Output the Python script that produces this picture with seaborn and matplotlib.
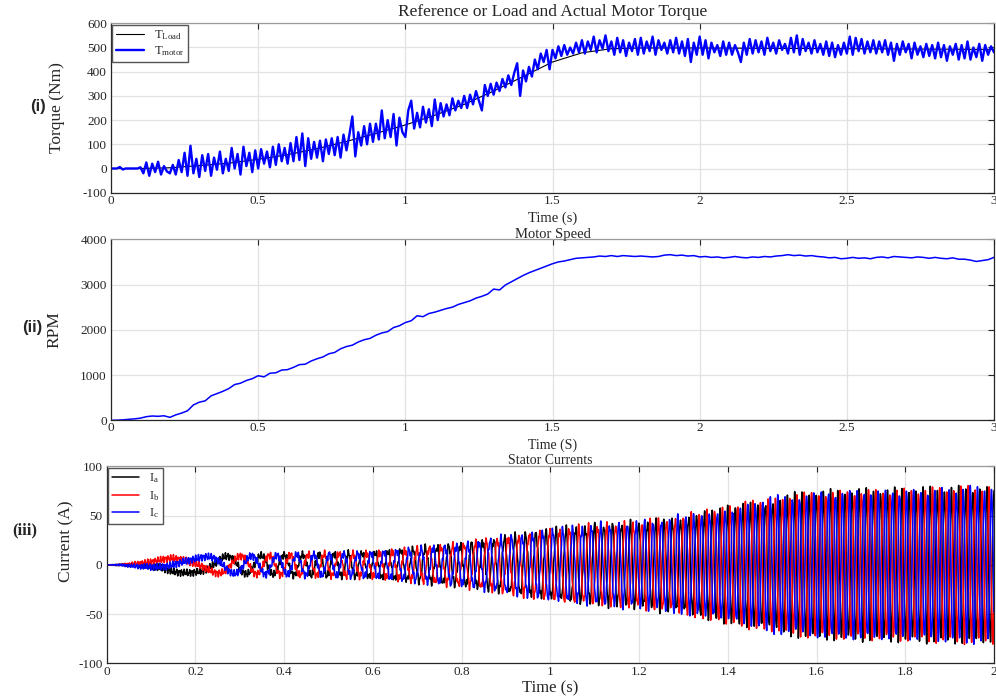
import numpy as np
import pandas as pd
import matplotlib
matplotlib.use("Agg")
import matplotlib.pyplot as plt
from matplotlib.ticker import FuncFormatter, MultipleLocator
import seaborn as sns

# ---------------- data ----------------
# (i) torque, sampled every 0.01 s from 0 to 3 s
torque_step = 0.01
torque_motor = [
    0, 0, 0, 6, -4, 0, 0, 0, 0, 0,
    5, -20, 25, -30, 20, -15, 28, -25, 10, -12,
    -20, 15, -25, 35, -15, 65, -30, 94, -20, 40,
    -35, 55, -10, 60, -30, 45, -5, 70, -20, 40,
    -10, 85, 0, 60, -25, 90, 10, 65, -15, 75,
    0, 80, 20, 70, 5, 90, 15, 100, 30, 85,
    20, 105, 30, 130, 35, 145, 10, 125, 40, 110,
    45, 115, 30, 120, 60, 125, 55, 130, 45, 140,
    75, 140, 215, 50, 150, 95, 175, 100, 185, 110,
    185, 120, 240, 125, 200, 130, 225, 95, 210, 150,
    130, 240, 280, 165, 230, 170, 255, 190, 245, 175,
    285, 200, 270, 215, 265, 220, 290, 240, 280, 250,
    300, 250, 305, 265, 320, 280, 240, 345, 300, 350,
    305, 355, 320, 370, 335, 385, 345, 395, 435, 300,
    405, 360, 420, 380, 450, 410, 475, 440, 490, 410,
    490, 455, 505, 465, 510, 470, 500, 475, 520, 480,
    530, 475, 525, 490, 545, 480, 530, 495, 550, 485,
    525, 470, 540, 480, 530, 465, 520, 485, 535, 470,
    540, 475, 525, 485, 545, 470, 530, 490, 520, 475,
    530, 480, 540, 475, 525, 465, 535, 440, 520, 470,
    545, 470, 530, 455, 520, 480, 510, 465, 525, 470,
    520, 470, 510, 480, 440, 520, 470, 535, 475, 530,
    480, 525, 470, 540, 485, 520, 475, 530, 490, 515,
    475, 540, 480, 550, 470, 535, 485, 520, 475, 530,
    480, 515, 470, 525, 465, 520, 460, 510, 470, 520,
    475, 545, 470, 540, 485, 535, 475, 525, 480, 530,
    475, 525, 480, 530, 470, 520, 445, 515, 470, 525,
    480, 515, 455, 520, 470, 505, 460, 515, 465, 510,
    455, 520, 460, 510, 445, 505, 470, 515, 450, 510,
    455, 525, 450, 500, 460, 515, 445, 510, 470, 505,
    480,
]
load_time = [0, 0.1, 0.2, 0.3, 0.4, 0.5, 0.6, 0.7, 0.8, 0.9, 1.0, 1.1, 1.2,
             1.3, 1.4, 1.5, 1.6, 1.7, 1.8, 2.0, 2.5, 3.0]
torque_load = [0, 0, 3, 12, 22, 38, 57, 82, 112, 145, 180, 220, 265,
               320, 380, 440, 478, 495, 498, 498, 495, 492]

# (ii) speed, sampled every 0.02 s from 0 to 3 s
speed_step = 0.02
speed_rpm = [
    0, 3, 10, 20, 32,
    48, 80, 95, 88, 100,
    65, 120, 160, 210, 340,
    400, 430, 540, 590, 640,
    700, 790, 820, 880, 920,
    985, 960, 1040, 1050, 1110,
    1120, 1170, 1230, 1240, 1310,
    1360, 1400, 1470, 1500, 1580,
    1630, 1660, 1730, 1780, 1810,
    1880, 1930, 1960, 2050, 2090,
    2160, 2200, 2310, 2290, 2360,
    2390, 2430, 2470, 2500, 2560,
    2600, 2640, 2700, 2740, 2790,
    2900, 2880, 2990, 3060, 3130,
    3200, 3260, 3310, 3360, 3410,
    3460, 3500, 3520, 3550, 3580,
    3590, 3600, 3610, 3630, 3620,
    3640, 3620, 3640, 3630, 3620,
    3630, 3620, 3610, 3620, 3650,
    3660, 3640, 3650, 3630, 3640,
    3610, 3620, 3600, 3610, 3590,
    3600, 3620, 3600, 3590, 3610,
    3600, 3620, 3610, 3630, 3640,
    3660, 3640, 3650, 3630, 3640,
    3620, 3610, 3590, 3600, 3570,
    3580, 3600, 3580, 3590, 3570,
    3600, 3610, 3590, 3620, 3610,
    3600, 3590, 3610, 3600, 3580,
    3600, 3580, 3570, 3590, 3560,
    3560, 3540, 3510, 3530, 3550,
    3600,
]

# (iii) stator currents: peak envelope (A), electrical frequency (Hz),
#       and the PWM ripple seen riding on each phase (A)
cur_amp_time = [0, 0.03, 0.10, 0.15, 0.20, 0.30, 0.40, 0.50, 0.60, 0.70, 0.80,
                0.90, 1.00, 1.10, 1.20, 1.30, 1.40, 1.50, 1.60, 1.70, 1.80, 1.90, 2.00]
cur_amp = [0, 0, 3, 8, 8, 9, 10, 11, 12, 16, 20,
           27, 34, 39, 42, 47, 56, 65, 73, 75, 75, 75, 76]
cur_freq_time = [0, 0.10, 0.20, 0.30, 0.40, 0.50, 0.60, 0.80, 1.00, 1.20, 1.40, 1.60, 2.00]
cur_freq_hz = [0, 2, 3, 12, 22, 30, 34, 39, 44, 52, 58, 62, 63]
ripple_time = [0, 0.03, 0.10, 0.60, 1.00, 2.00]
ripple_amp = [0, 0.6, 2.2, 2.6, 3.2, 3.5]
ripple_hz = [173, 311]

# ---------------- build series ----------------
t_torque = np.arange(len(torque_motor)) * torque_step
t_speed = np.arange(len(speed_rpm)) * speed_step

dt = 0.0004
t_cur = np.arange(0, 2.0 + dt / 2, dt)
freq = np.interp(t_cur, cur_freq_time, cur_freq_hz)
theta = 2 * np.pi * np.cumsum(freq) * dt
theta += 1.5 * np.pi - np.interp(0.18, t_cur, theta)
amp = np.interp(t_cur, cur_amp_time, cur_amp)
rip = np.interp(t_cur, ripple_time, ripple_amp)
phases = {}
for k, shift in enumerate([0.0, -2 * np.pi / 3, 2 * np.pi / 3]):
    r = rip * (np.sin(2 * np.pi * ripple_hz[0] * t_cur + 1.7 * k)
               + 0.7 * np.sin(2 * np.pi * ripple_hz[1] * t_cur + 2.9 * k))
    phases[k] = amp * np.sin(theta + shift) + r
ia, ib, ic = phases[0], phases[1], phases[2]

# ---------------- style ----------------
sns.set_style("white")
plt.rcParams["font.family"] = ["Liberation Serif", "DejaVu Serif"]
plt.rcParams["mathtext.fontset"] = "custom"
plt.rcParams["mathtext.rm"] = "Liberation Serif"
plt.rcParams["mathtext.it"] = "Liberation Serif:italic"

W, H = 996, 698
fig = plt.figure(figsize=(W / 100, H / 100), dpi=100)
ax1 = fig.add_axes([111 / W, 1 - 192.7 / H, 883 / W, 169.4 / H])
ax2 = fig.add_axes([111 / W, 1 - 420.3 / H, 883 / W, 181 / H])
ax3 = fig.add_axes([106.7 / W, 1 - 663.3 / H, 887.3 / W, 196.8 / H])

fmt = FuncFormatter(lambda v, p: f"{v:g}")


def style(ax, pad=2):
    ax.grid(True, color="#e2e2e2", linewidth=0.9)
    ax.set_axisbelow(True)
    ax.tick_params(direction="in", length=4, width=0.8, top=True, right=True,
                   labelsize=9.5, colors="#262626")
    ax.tick_params(axis="x", pad=pad)
    ax.tick_params(axis="y", pad=3)
    for s in ["left", "bottom", "right"]:
        ax.spines[s].set_color("#262626")
        ax.spines[s].set_linewidth(0.9)
    ax.spines["top"].set_color("#9a9a9a")
    ax.spines["top"].set_linewidth(0.9)
    ax.xaxis.set_major_formatter(fmt)
    ax.yaxis.set_major_formatter(fmt)


# panel (i)
sns.lineplot(x=load_time, y=torque_load, ax=ax1, color="black", linewidth=0.8,
             estimator=None, label=r"T$_{\mathrm{Load}}$")
sns.lineplot(x=t_torque, y=torque_motor, ax=ax1, color="#0000ff", linewidth=1.7,
             estimator=None, label=r"T$_{\mathrm{motor}}$")
ax1.set_xlim(0, 3)
ax1.set_ylim(-100, 600)
ax1.xaxis.set_major_locator(MultipleLocator(0.5))
ax1.yaxis.set_major_locator(MultipleLocator(100))
style(ax1, pad=2)
ax1.text(0.5, 1.067, "Reference or Load and Actual Motor Torque", transform=ax1.transAxes,
         ha="center", va="center", fontsize=12.5)
ax1.set_xlabel("Time (s)", fontsize=10.5)
ax1.xaxis.set_label_coords(0.5, -0.153)
ax1.xaxis.label.set_va("center")
ax1.set_ylabel("Torque (Nm)", fontsize=12.5)
ax1.yaxis.set_label_coords(-0.061, 0.5)
ax1.yaxis.label.set_va("center")
ax1.legend(loc="upper left", bbox_to_anchor=(0, 1), borderaxespad=0.1, fontsize=9,
           frameon=True, fancybox=False, edgecolor="#555555", framealpha=1,
           handlelength=2.2, borderpad=0.3, labelspacing=0.2)
fig.text(38 / W, 1 - 106 / H, "(i)", fontsize=12, fontweight="bold",
         family="Liberation Sans", ha="center", va="center")

# panel (ii)
sns.lineplot(x=t_speed, y=speed_rpm, ax=ax2, color="#0000ff", linewidth=1.1,
             estimator=None)
ax2.set_xlim(0, 3)
ax2.set_ylim(0, 4000)
ax2.xaxis.set_major_locator(MultipleLocator(0.5))
ax2.yaxis.set_major_locator(MultipleLocator(1000))
style(ax2, pad=1.5)
ax2.text(0.5, 1.024, "Motor Speed", transform=ax2.transAxes,
         ha="center", va="center", fontsize=10.5)
ax2.set_xlabel("Time (S)", fontsize=10)
ax2.xaxis.set_label_coords(0.5, -0.137)
ax2.xaxis.label.set_va("center")
ax2.set_ylabel("RPM", fontsize=12.5)
ax2.yaxis.set_label_coords(-0.064, 0.5)
ax2.yaxis.label.set_va("center")
fig.text(32 / W, 1 - 327 / H, "(ii)", fontsize=12, fontweight="bold",
         family="Liberation Sans", ha="center", va="center")

# panel (iii)
sns.lineplot(x=t_cur, y=ia, ax=ax3, color="black", linewidth=1.1, estimator=None,
             label=r"I$_{\mathrm{a}}$")
sns.lineplot(x=t_cur, y=ib, ax=ax3, color="#ff0000", linewidth=1.1, estimator=None,
             label=r"I$_{\mathrm{b}}$")
sns.lineplot(x=t_cur, y=ic, ax=ax3, color="#0000ff", linewidth=1.1, estimator=None,
             label=r"I$_{\mathrm{c}}$")
ax3.set_xlim(0, 2)
ax3.set_ylim(-100, 100)
ax3.xaxis.set_major_locator(MultipleLocator(0.2))
ax3.yaxis.set_major_locator(MultipleLocator(50))
style(ax3, pad=2)
ax3.text(0.5, 1.0285, "Stator Currents", transform=ax3.transAxes,
         ha="center", va="center", fontsize=10)
ax3.set_xlabel("Time (s)", fontsize=12)
ax3.xaxis.set_label_coords(0.5, -0.125)
ax3.xaxis.label.set_va("center")
ax3.set_ylabel("Current (A)", fontsize=12.5)
ax3.yaxis.set_label_coords(-0.045, 0.621)
ax3.yaxis.label.set_va("center")
ax3.legend(loc="upper left", bbox_to_anchor=(0, 1), borderaxespad=0.1, fontsize=9,
           frameon=True, fancybox=False, edgecolor="#555555", framealpha=1,
           handlelength=2.2, borderpad=0.3, labelspacing=0.3)
fig.text(25 / W, 1 - 530 / H, "(iii)", fontsize=12, fontweight="bold",
         ha="center", va="center")

fig.savefig("out.png", dpi=100)
